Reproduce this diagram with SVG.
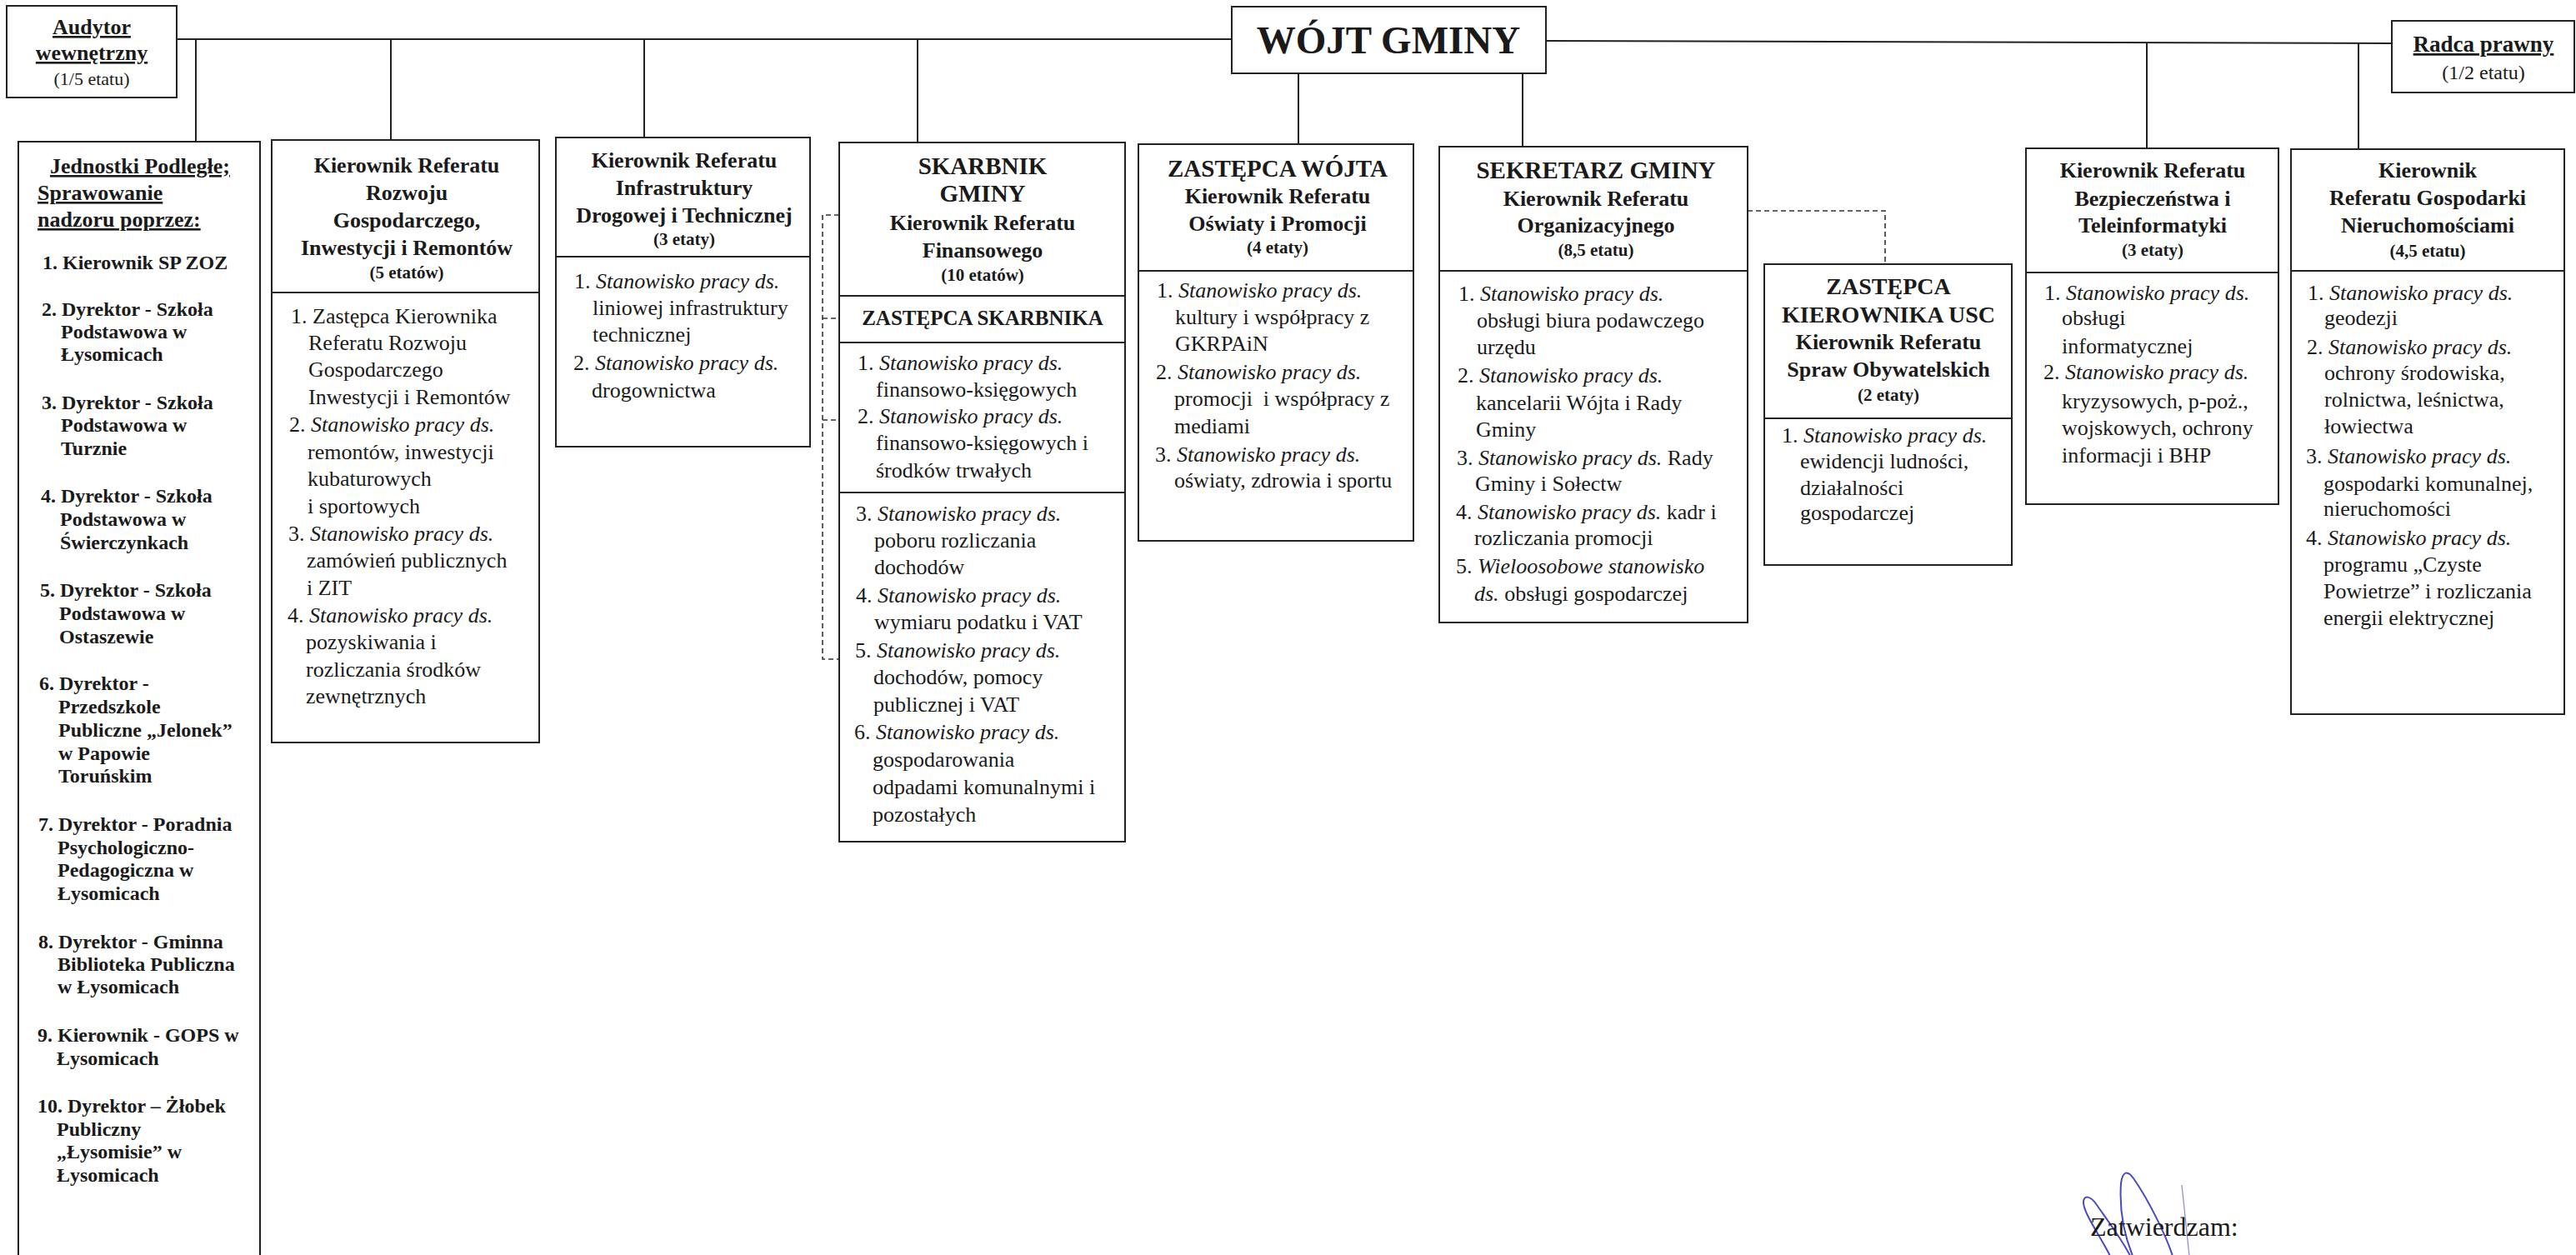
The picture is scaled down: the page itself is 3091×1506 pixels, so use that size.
<svg xmlns="http://www.w3.org/2000/svg" width="3091" height="1506" viewBox="0 0 3091 1506">
<style>
.box{fill:#fff;stroke:#222;stroke-width:2}
.ln{stroke:#222;stroke-width:2;fill:none}
.dash{stroke:#333;stroke-width:1.6;stroke-dasharray:6 4;fill:none}
text{font-family:"Liberation Serif","Times New Roman",serif;fill:#1a1a1a}
.h{font-size:26px;font-weight:bold;text-anchor:middle}
.hl{font-size:29px;font-weight:bold;text-anchor:middle}
.e{font-size:21px;font-weight:bold;text-anchor:middle}
.bd{font-size:26px}
.it{font-size:24px;font-weight:bold}
.i{font-style:italic}
.u{text-decoration:underline}
</style>
<rect width="3091" height="1506" fill="#fff"/>
<g id="connectors">
<line class="ln" x1="212" y1="47" x2="1478" y2="47"/>
<line class="ln" x1="1855" y1="49" x2="2870" y2="52"/>
<line class="ln" x1="235" y1="47" x2="235" y2="170"/>
<line class="ln" x1="469" y1="47" x2="469" y2="168"/>
<line class="ln" x1="773" y1="47" x2="773" y2="165"/>
<line class="ln" x1="1101" y1="47" x2="1101" y2="171"/>
<line class="ln" x1="1558" y1="88" x2="1558" y2="173"/>
<line class="ln" x1="1827" y1="88" x2="1827" y2="176"/>
<line class="ln" x1="2576" y1="51" x2="2576" y2="178"/>
<line class="ln" x1="2830" y1="52" x2="2830" y2="179"/>
<path class="dash" d="M1007 258 H987 V791 H1007 M987 382 H1007 M987 504 H1007"/>
<path class="dash" d="M2097 253 H2262 V317"/>
</g>
<g id="audytor">
<rect class="box" x="8" y="7" width="204" height="110"/>
<text class="h u" x="110" y="41">Audytor</text>
<text class="h u" x="110" y="72">wewnętrzny</text>
<text class="bd" x="110" y="102" style="font-size:22px;text-anchor:middle">(1/5 etatu)</text>
</g>
<g id="wojt">
<rect class="box" x="1478" y="8" width="377" height="80"/>
<text x="1666" y="64" style="font-size:47px;font-weight:bold;text-anchor:middle">WÓJT GMINY</text>
</g>
<g id="radca">
<rect class="box" x="2870" y="25" width="219" height="86"/>
<text class="h u" x="2980" y="62" style="font-size:27px">Radca prawny</text>
<text class="bd" x="2980" y="95" style="font-size:24px;text-anchor:middle">(1/2 etatu)</text>
</g>
<g id="jednostki">
<rect class="box" x="22" y="170" width="290" height="1360"/>
<text class="u" x="60" y="208" style="font-size:26px;font-weight:bold">Jednostki Podległe;</text>
<text class="u" x="45" y="240" style="font-size:26px;font-weight:bold">Sprawowanie</text>
<text class="u" x="45" y="272" style="font-size:26px;font-weight:bold">nadzoru poprzez:</text>
<text class="it" x="51" y="323">1. Kierownik SP ZOZ</text>
<text class="it" x="50" y="379">2. Dyrektor - Szkoła</text>
<text class="it" x="73" y="406">Podstawowa w</text>
<text class="it" x="73" y="433">Łysomicach</text>
<text class="it" x="50" y="491">3. Dyrektor - Szkoła</text>
<text class="it" x="73" y="518">Podstawowa w</text>
<text class="it" x="73" y="546">Turznie</text>
<text class="it" x="49" y="603">4. Dyrektor - Szkoła</text>
<text class="it" x="72" y="631">Podstawowa w</text>
<text class="it" x="72" y="659">Świerczynkach</text>
<text class="it" x="48" y="716">5. Dyrektor - Szkoła</text>
<text class="it" x="71" y="744">Podstawowa w</text>
<text class="it" x="71" y="772">Ostaszewie</text>
<text class="it" x="47" y="828">6. Dyrektor -</text>
<text class="it" x="70" y="856">Przedszkole</text>
<text class="it" x="70" y="884">Publiczne „Jelonek”</text>
<text class="it" x="70" y="912">w Papowie</text>
<text class="it" x="70" y="939">Toruńskim</text>
<text class="it" x="46" y="997">7. Dyrektor - Poradnia</text>
<text class="it" x="69" y="1025">Psychologiczno-</text>
<text class="it" x="69" y="1052">Pedagogiczna w</text>
<text class="it" x="69" y="1080">Łysomicach</text>
<text class="it" x="46" y="1138">8. Dyrektor - Gminna</text>
<text class="it" x="69" y="1165">Biblioteka Publiczna</text>
<text class="it" x="69" y="1192">w Łysomicach</text>
<text class="it" x="45" y="1250">9. Kierownik - GOPS w</text>
<text class="it" x="68" y="1278">Łysomicach</text>
<text class="it" x="45" y="1335">10. Dyrektor – Żłobek</text>
<text class="it" x="68" y="1363">Publiczny</text>
<text class="it" x="68" y="1390">„Łysomisie” w</text>
<text class="it" x="68" y="1418">Łysomicach</text>
</g>
<g id="rozwoj">
<rect class="box" x="326" y="168" width="321" height="723"/>
<line class="ln" x1="326" y1="351" x2="647" y2="351"/>
<text class="h" x="488" y="207">Kierownik Referatu</text>
<text class="h" x="488" y="240">Rozwoju</text>
<text class="h" x="488" y="273">Gospodarczego,</text>
<text class="h" x="488" y="306">Inwestycji i Remontów</text>
<text class="e" x="488" y="334">(5 etatów)</text>
<text class="bd" x="349" y="388">1. Zastępca Kierownika</text>
<text class="bd" x="370" y="420">Referatu Rozwoju</text>
<text class="bd" x="370" y="452">Gospodarczego</text>
<text class="bd" x="370" y="485">Inwestycji i Remontów</text>
<text class="bd" x="347" y="518">2. <tspan class="i">Stanowisko pracy ds.</tspan></text>
<text class="bd" x="369" y="551">remontów, inwestycji</text>
<text class="bd" x="369" y="583">kubaturowych</text>
<text class="bd" x="369" y="616">i sportowych</text>
<text class="bd" x="346" y="649">3. <tspan class="i">Stanowisko pracy ds.</tspan></text>
<text class="bd" x="368" y="681">zamówień publicznych</text>
<text class="bd" x="368" y="714">i ZIT</text>
<text class="bd" x="345" y="747">4. <tspan class="i">Stanowisko pracy ds.</tspan></text>
<text class="bd" x="367" y="779">pozyskiwania i</text>
<text class="bd" x="367" y="812">rozliczania środków</text>
<text class="bd" x="367" y="844">zewnętrznych</text>
</g>
<g id="infrastruktura">
<rect class="box" x="667" y="165" width="305" height="371"/>
<line class="ln" x1="667" y1="308" x2="972" y2="308"/>
<text class="h" x="821" y="201">Kierownik Referatu</text>
<text class="h" x="821" y="234">Infrastruktury</text>
<text class="h" x="821" y="267">Drogowej i Technicznej</text>
<text class="e" x="821" y="294">(3 etaty)</text>
<text class="bd" x="689" y="346">1. <tspan class="i">Stanowisko pracy ds.</tspan></text>
<text class="bd" x="711" y="378">liniowej infrastruktury</text>
<text class="bd" x="711" y="410">technicznej</text>
<text class="bd" x="688" y="444">2. <tspan class="i">Stanowisko pracy ds.</tspan></text>
<text class="bd" x="710" y="477">drogownictwa</text>
</g>
<g id="skarbnik">
<rect class="box" x="1007" y="171" width="343" height="839"/>
<line class="ln" x1="1007" y1="355" x2="1350" y2="355"/>
<line class="ln" x1="1007" y1="411" x2="1350" y2="411"/>
<line class="ln" x1="1007" y1="591" x2="1350" y2="591"/>
<text class="hl" x="1179" y="209">SKARBNIK</text>
<text class="hl" x="1179" y="242">GMINY</text>
<text class="h" x="1179" y="276">Kierownik Referatu</text>
<text class="h" x="1179" y="309">Finansowego</text>
<text class="e" x="1179" y="337">(10 etatów)</text>
<text class="h" x="1179" y="390" style="font-size:25px">ZASTĘPCA SKARBNIKA</text>
<text class="bd" x="1029" y="444">1. <tspan class="i">Stanowisko pracy ds.</tspan></text>
<text class="bd" x="1051" y="476">finansowo-księgowych</text>
<text class="bd" x="1029" y="508">2. <tspan class="i">Stanowisko pracy ds.</tspan></text>
<text class="bd" x="1051" y="540">finansowo-księgowych i</text>
<text class="bd" x="1051" y="573">środków trwałych</text>
<text class="bd" x="1027" y="625">3. <tspan class="i">Stanowisko pracy ds.</tspan></text>
<text class="bd" x="1049" y="657">poboru rozliczania</text>
<text class="bd" x="1049" y="689">dochodów</text>
<text class="bd" x="1027" y="723">4. <tspan class="i">Stanowisko pracy ds.</tspan></text>
<text class="bd" x="1049" y="755">wymiaru podatku i VAT</text>
<text class="bd" x="1026" y="789">5. <tspan class="i">Stanowisko pracy ds.</tspan></text>
<text class="bd" x="1048" y="821">dochodów, pomocy</text>
<text class="bd" x="1048" y="854">publicznej i VAT</text>
<text class="bd" x="1025" y="887">6. <tspan class="i">Stanowisko pracy ds.</tspan></text>
<text class="bd" x="1047" y="920">gospodarowania</text>
<text class="bd" x="1047" y="953">odpadami komunalnymi i</text>
<text class="bd" x="1047" y="986">pozostałych</text>
</g>
<g id="zastepca-wojta">
<rect class="box" x="1366" y="173" width="330" height="476"/>
<line class="ln" x1="1366" y1="325" x2="1696" y2="325"/>
<text class="hl" x="1533" y="212">ZASTĘPCA WÓJTA</text>
<text class="h" x="1533" y="244">Kierownik Referatu</text>
<text class="h" x="1533" y="277">Oświaty i Promocji</text>
<text class="e" x="1533" y="304">(4 etaty)</text>
<text class="bd" x="1388" y="357">1. <tspan class="i">Stanowisko pracy ds.</tspan></text>
<text class="bd" x="1410" y="389">kultury i współpracy z</text>
<text class="bd" x="1410" y="421">GKRPAiN</text>
<text class="bd" x="1387" y="455">2. <tspan class="i">Stanowisko pracy ds.</tspan></text>
<text class="bd" x="1409" y="487" xml:space="preserve">promocji  i współpracy z</text>
<text class="bd" x="1409" y="520">mediami</text>
<text class="bd" x="1386" y="554">3. <tspan class="i">Stanowisko pracy ds.</tspan></text>
<text class="bd" x="1409" y="585">oświaty, zdrowia i sportu</text>
</g>
<g id="sekretarz">
<rect class="box" x="1727" y="176" width="370" height="571"/>
<line class="ln" x1="1727" y1="325" x2="2097" y2="325"/>
<text class="hl" x="1915" y="214">SEKRETARZ GMINY</text>
<text class="h" x="1915" y="247">Kierownik Referatu</text>
<text class="h" x="1915" y="279">Organizacyjnego</text>
<text class="e" x="1915" y="307">(8,5 etatu)</text>
<text class="bd" x="1750" y="361">1. <tspan class="i">Stanowisko pracy ds.</tspan></text>
<text class="bd" x="1772" y="393">obsługi biura podawczego</text>
<text class="bd" x="1772" y="425">urzędu</text>
<text class="bd" x="1749" y="459">2. <tspan class="i">Stanowisko pracy ds.</tspan></text>
<text class="bd" x="1771" y="492">kancelarii Wójta i Rady</text>
<text class="bd" x="1771" y="524">Gminy</text>
<text class="bd" x="1748" y="558">3. <tspan class="i">Stanowisko pracy ds.</tspan> Rady</text>
<text class="bd" x="1770" y="589">Gminy i Sołectw</text>
<text class="bd" x="1747" y="623">4. <tspan class="i">Stanowisko pracy ds.</tspan> kadr i</text>
<text class="bd" x="1769" y="654">rozliczania promocji</text>
<text class="bd" x="1747" y="688">5. <tspan class="i">Wieloosobowe stanowisko</tspan></text>
<text class="bd" x="1769" y="721"><tspan class="i">ds.</tspan> obsługi gospodarczej</text>
</g>
<g id="usc">
<rect class="box" x="2117" y="317" width="297" height="361"/>
<line class="ln" x1="2117" y1="502" x2="2414" y2="502"/>
<text class="hl" x="2266" y="353" style="font-size:28px">ZASTĘPCA</text>
<text class="hl" x="2266" y="387" style="font-size:28px">KIEROWNIKA USC</text>
<text class="h" x="2266" y="419">Kierownik Referatu</text>
<text class="h" x="2266" y="452">Spraw Obywatelskich</text>
<text class="e" x="2266" y="481">(2 etaty)</text>
<text class="bd" x="2138" y="531">1. <tspan class="i">Stanowisko pracy ds.</tspan></text>
<text class="bd" x="2160" y="562">ewidencji ludności,</text>
<text class="bd" x="2160" y="594">działalności</text>
<text class="bd" x="2160" y="624">gospodarczej</text>
</g>
<g id="bezpieczenstwo">
<rect class="box" x="2431" y="178" width="303" height="427"/>
<line class="ln" x1="2431" y1="327" x2="2734" y2="327"/>
<text class="h" x="2583" y="213">Kierownik Referatu</text>
<text class="h" x="2583" y="247">Bezpieczeństwa i</text>
<text class="h" x="2583" y="279">Teleinformatyki</text>
<text class="e" x="2583" y="307">(3 etaty)</text>
<text class="bd" x="2453" y="360">1. <tspan class="i">Stanowisko pracy ds.</tspan></text>
<text class="bd" x="2474" y="390">obsługi</text>
<text class="bd" x="2474" y="424">informatycznej</text>
<text class="bd" x="2452" y="455">2. <tspan class="i">Stanowisko pracy ds.</tspan></text>
<text class="bd" x="2474" y="490">kryzysowych, p-poż.,</text>
<text class="bd" x="2474" y="522">wojskowych, ochrony</text>
<text class="bd" x="2474" y="555">informacji i BHP</text>
</g>
<g id="nieruchomosci">
<rect class="box" x="2749" y="179" width="328" height="678"/>
<line class="ln" x1="2749" y1="325" x2="3077" y2="325"/>
<text class="h" x="2913" y="213">Kierownik</text>
<text class="h" x="2913" y="246">Referatu Gospodarki</text>
<text class="h" x="2913" y="279">Nieruchomościami</text>
<text class="e" x="2913" y="308">(4,5 etatu)</text>
<text class="bd" x="2769" y="360">1. <tspan class="i">Stanowisko pracy ds.</tspan></text>
<text class="bd" x="2789" y="390">geodezji</text>
<text class="bd" x="2768" y="425">2. <tspan class="i">Stanowisko pracy ds.</tspan></text>
<text class="bd" x="2789" y="456">ochrony środowiska,</text>
<text class="bd" x="2789" y="488">rolnictwa, leśnictwa,</text>
<text class="bd" x="2789" y="520">łowiectwa</text>
<text class="bd" x="2767" y="556">3. <tspan class="i">Stanowisko pracy ds.</tspan></text>
<text class="bd" x="2788" y="589">gospodarki komunalnej,</text>
<text class="bd" x="2788" y="619">nieruchomości</text>
<text class="bd" x="2767" y="654">4. <tspan class="i">Stanowisko pracy ds.</tspan></text>
<text class="bd" x="2788" y="686">programu „Czyste</text>
<text class="bd" x="2788" y="718">Powietrze” i rozliczania</text>
<text class="bd" x="2788" y="750">energii elektrycznej</text>
</g>
<g id="zatwierdzam">
<path d="M2532 1507 C2518 1480 2500 1455 2500 1443 C2500 1434 2508 1434 2516 1446 C2530 1466 2548 1490 2556 1507" fill="none" stroke="#4a48c0" stroke-width="2"/>
<path d="M2559 1507 C2548 1480 2543 1450 2545 1420 C2547 1405 2553 1404 2560 1414 C2578 1440 2598 1480 2607 1507" fill="none" stroke="#4a48c0" stroke-width="2"/>
<path d="M2618 1422 L2627 1507" fill="none" stroke="#8a88d8" stroke-width="1.2"/>
<text x="2508" y="1483" style="font-size:32px">Zatwierdzam:</text>
</g>
</svg>
